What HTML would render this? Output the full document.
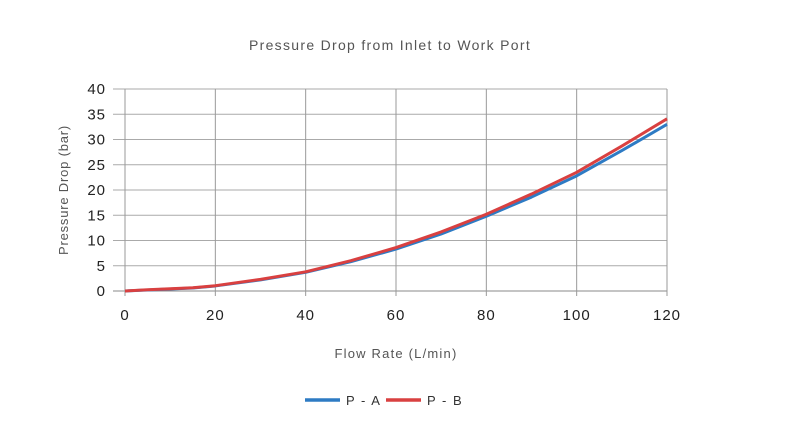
<!DOCTYPE html>
<html><head><meta charset="utf-8"><style>
body{margin:0;background:#fff;font-family:"Liberation Sans",sans-serif}
svg text{font-family:"Liberation Sans",sans-serif}
</style></head><body>
<svg width="789" height="427">
<text x="390" y="50" text-anchor="middle" font-size="14" letter-spacing="1.3" fill="#555">Pressure Drop from Inlet to Work Port</text>
<g id="grid"></g><g id="axes"></g><g id="series"></g>
<text transform="translate(68,190) rotate(-90)" text-anchor="middle" font-size="13" letter-spacing="0.8" fill="#555">Pressure Drop (bar)</text>
<text x="396" y="358" text-anchor="middle" font-size="13" letter-spacing="1.2" fill="#555">Flow Rate (L/min)</text>
<g><line x1="305" y1="400" x2="340" y2="400" stroke="#2e7bc4" stroke-width="3.5"/><text x="346" y="405" font-size="13" letter-spacing="1.5" fill="#333">P - A</text></g>
<g><line x1="386" y1="400" x2="421" y2="400" stroke="#d94040" stroke-width="3.5"/><text x="427" y="405" font-size="13" letter-spacing="1.5" fill="#333">P - B</text></g>
</svg>
<script>
const flow=[0,5,10,15,20,30,40,50,60,70,80,90,100,110,120];
const pa=[0,0.2,0.4,0.6,1.0,2.2,3.7,5.8,8.3,11.3,14.8,18.6,22.8,27.8,33];
const pb=[0,0.25,0.45,0.65,1.05,2.3,3.8,6.0,8.6,11.7,15.2,19.2,23.5,28.7,34.1];
const xTicks=[0,20,40,60,80,100,120];
const yTicks=[0,5,10,15,20,25,30,35,40];
const X=v=>125+v*(667-125)/120, Y=v=>291-v*(291-89)/40;
const NS="http://www.w3.org/2000/svg";
const g=document.getElementById('grid'),ax=document.getElementById('axes'),se=document.getElementById('series');
function mk(tag,at,p){const e=document.createElementNS(NS,tag);for(const k in at)e.setAttribute(k,at[k]);p.appendChild(e);return e;}
yTicks.forEach(t=>{
const l=mk('line',{x1:113,x2:667,y1:Y(t),y2:Y(t),stroke:t==0?'#888':'#aaa','stroke-width':1},g);


const tx=mk('text',{x:106,y:Y(t)+5,'text-anchor':'end','font-size':15,'letter-spacing':1,fill:'#222'},ax);tx.textContent=t;


});
xTicks.forEach(t=>{
const l=mk('line',{x1:X(t),x2:X(t),y1:89,y2:296,stroke:'#999','stroke-width':1},g);


const tx=mk('text',{x:X(t),y:320,'text-anchor':'middle','font-size':15,'letter-spacing':1,fill:'#222'},ax);tx.textContent=t;


});
function line(d,c,n){const p=mk('polyline',{points:flow.map((f,i)=>X(f)+','+Y(d[i])).join(' '),fill:'none',stroke:c,'stroke-width':3,'stroke-linejoin':'round'},se);

}
line(pa,'#2e7bc4','series-p-a');
line(pb,'#d94040','series-p-b');
</script>
</body></html>
